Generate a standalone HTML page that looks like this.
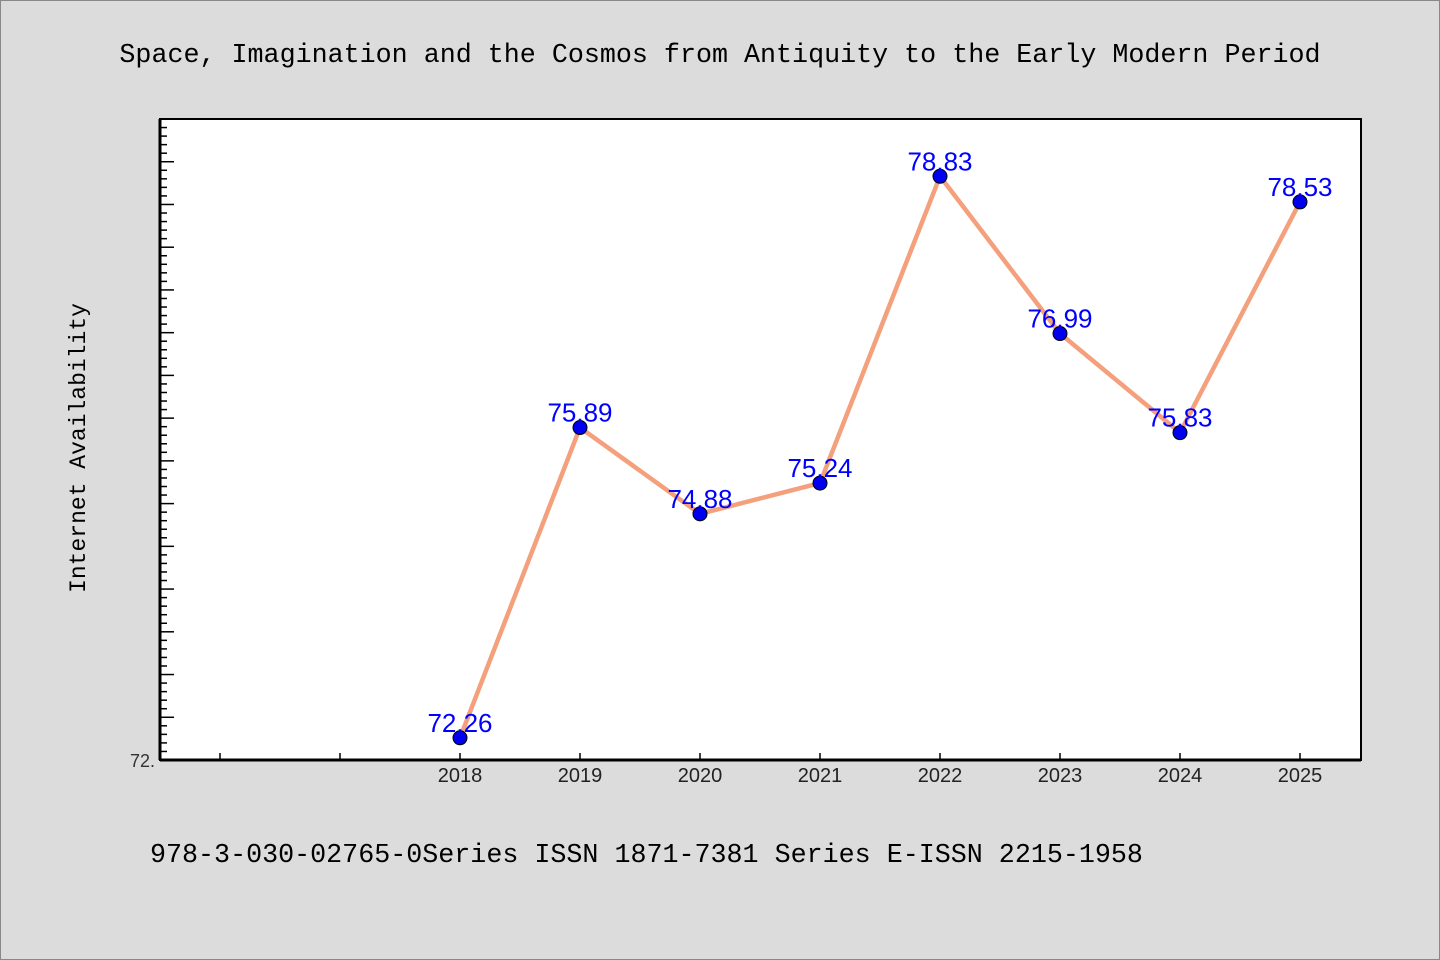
<!DOCTYPE html>
<html><head><meta charset="utf-8"><style>
body{margin:0;width:1440px;height:960px;background:#dcdcdc;overflow:hidden}
svg{display:block}
</style></head><body>
<svg width="1440" height="960" xmlns="http://www.w3.org/2000/svg">
<rect x="0.5" y="0.5" width="1439" height="959" fill="#dcdcdc" stroke="#888"/>
<text x="720" y="62" text-anchor="middle" font-family="Liberation Mono, monospace" font-size="26.7" fill="#000">Space, Imagination and the Cosmos from Antiquity to the Early Modern Period</text>
<rect x="160" y="119" width="1201" height="641" fill="#fff" stroke="#000" stroke-width="2"/>
<g id="ticks"></g>
<line x1="160" y1="760" x2="1361" y2="760" stroke="#000" stroke-width="3"/>
<line x1="160" y1="119" x2="160" y2="760" stroke="#000" stroke-width="3"/>
<text x="155" y="767" text-anchor="end" font-family="Liberation Sans, sans-serif" font-size="18" fill="#333">72.</text>
<text transform="translate(85,448) rotate(-90)" text-anchor="middle" font-family="Liberation Mono, monospace" font-size="23" fill="#000">Internet Availability</text>
<g id="series"></g>
<text x="150" y="862" font-family="Liberation Mono, monospace" font-size="26.7" fill="#000">978-3-030-02765-0Series ISSN 1871-7381 Series E-ISSN 2215-1958</text>
</svg>
<script>
const years=[2018,2019,2020,2021,2022,2023,2024,2025];
const values=[72.26,75.89,74.88,75.24,78.83,76.99,75.83,78.53];
const labels=["72.26","75.89","74.88","75.24","78.83","76.99","75.83","78.53"];
const NS="http://www.w3.org/2000/svg";
const X0=160,X1=1360,Y0=760,Y1=119;
const xMin=2015.5,xMax=2025.5,yMin=72,yMax=79.5;
const xs=v=>X0+(v-xMin)/(xMax-xMin)*(X1-X0);
const ys=v=>Y0-(v-yMin)/(yMax-yMin)*(Y0-Y1);
function mk(t,a){const e=document.createElementNS(NS,t);for(const k in a)e.setAttribute(k,a[k]);return e;}
const tg=document.getElementById('ticks');
for(let i=1;i<=75;i++){const v=yMin+i*0.1;const y=ys(v);const len=(i%5===0)?14:7;
 const l=mk('line',{x1:X0,y1:y,x2:X0+len,y2:y,stroke:'#000','stroke-width':1.5});
 
 
 tg.appendChild(l);}
for(let yv=2016;yv<=2025;yv++){const x=xs(yv);
 const l=mk('line',{x1:x,y1:Y0,x2:x,y2:Y0-7,stroke:'#000','stroke-width':1.5});
 
 
 tg.appendChild(l);}
years.forEach(yr=>{const t=mk('text',{x:xs(yr),y:782,'text-anchor':'middle','font-family':'Liberation Sans, sans-serif','font-size':20,fill:'#222'});
 t.textContent=yr;
 
 
 tg.appendChild(t);});
const sg=document.getElementById('series');
const pl=mk('polyline',{points:years.map((y,i)=>xs(y)+','+ys(values[i])).join(' '),fill:'none',stroke:'#f4a07c','stroke-width':4.5,'stroke-linejoin':'round'});


sg.appendChild(pl);
years.forEach((yr,i)=>{const c=mk('circle',{cx:xs(yr),cy:ys(values[i]),r:7,fill:'#0000ee',stroke:'#000','stroke-width':1});
 
 
 sg.appendChild(c);});
years.forEach((yr,i)=>{const t=mk('text',{x:xs(yr),y:ys(values[i])-6,'text-anchor':'middle','font-family':'Liberation Sans, sans-serif','font-size':26,fill:'#0000ff'});
 t.textContent=labels[i];
 
 
 sg.appendChild(t);});
</script>
</body></html>
